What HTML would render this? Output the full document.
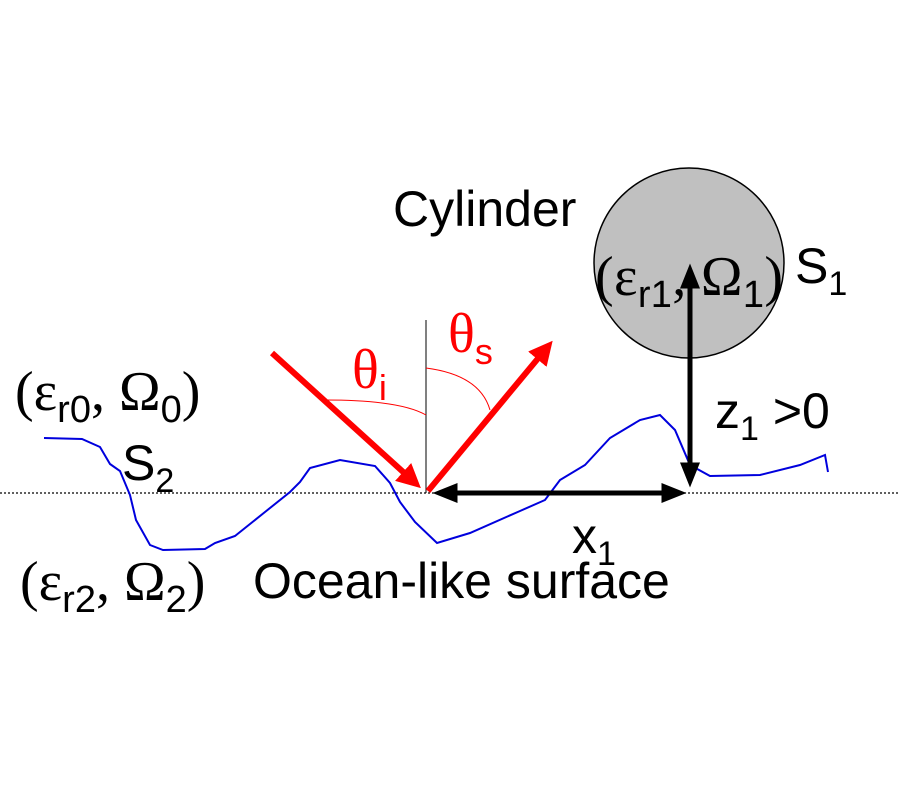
<!DOCTYPE html>
<html><head><meta charset="utf-8"><style>body{margin:0;background:#fff}svg{display:block}</style></head><body>
<svg width="900" height="800" viewBox="0 0 900 800" xmlns="http://www.w3.org/2000/svg">
<defs>
<marker id="ar" markerWidth="4" markerHeight="4" refX="2" refY="2" orient="auto" markerUnits="strokeWidth"><path d="M0,0L4,2L0,4z" fill="red"/></marker>
<marker id="ak" markerWidth="5" markerHeight="4" refX="3.5" refY="2" orient="auto-start-reverse" markerUnits="strokeWidth"><path d="M0,0L5,2L0,4z" fill="#000"/></marker>
</defs>
<line x1="0" y1="493" x2="900" y2="493" stroke="#000" stroke-width="1.2" stroke-dasharray="2,2"/>
<circle cx="689" cy="263" r="95" fill="#c0c0c0" stroke="#000" stroke-width="1.5"/>
<polyline fill="none" stroke="#0000dd" stroke-width="2" points="44,438 82,439 100,447 110,464 120,471 130,495 136,520 150,545 163,550 205,549 215,543 235,536 265,512 290,492 300,482 310,468 340,460 375,466 390,483 400,502 415,522 437,543 470,533 520,511 545,500 560,480 585,465 610,438 640,420 660,415 675,430 690,465 710,476 760,475 800,465 825,455 828,472"/>
<line x1="426" y1="320" x2="426" y2="493" stroke="#000" stroke-width="1"/>
<path d="M325,400 Q400,400 426,415" fill="none" stroke="red" stroke-width="1"/>
<path d="M426,368 Q480,375 490,410" fill="none" stroke="red" stroke-width="1"/>
<line x1="272" y1="353" x2="412" y2="480" stroke="red" stroke-width="6" marker-end="url(#ar)"/>
<line x1="428" y1="491" x2="545" y2="350" stroke="red" stroke-width="6" marker-end="url(#ar)"/>
<line x1="440" y1="493" x2="679" y2="493" stroke="#000" stroke-width="5" marker-start="url(#ak)" marker-end="url(#ak)"/>
<line x1="690" y1="480" x2="690" y2="271" stroke="#000" stroke-width="5" marker-start="url(#ak)" marker-end="url(#ak)"/>
<g font-family="Liberation Sans, sans-serif" font-size="50" fill="#000">
<text x="393" y="226">Cylinder</text>
<text x="253" y="598">Ocean-like surface</text>
<text x="122" y="480">S<tspan font-size="34" dy="12">2</tspan></text>
<text x="795" y="283">S<tspan font-size="34" dy="12">1</tspan></text>
<text x="572" y="553">x<tspan font-size="34" dy="12">1</tspan></text>
<text x="715" y="428">z<tspan font-size="34" dy="12">1</tspan><tspan dy="-12"> &gt;0</tspan></text>
</g>
<g font-family="Liberation Serif, serif" font-size="56" fill="#000">
<text x="15" y="410">(ε<tspan font-family="Liberation Sans, sans-serif" font-size="38" dy="12">r0</tspan><tspan dy="-12">, Ω</tspan><tspan font-family="Liberation Sans, sans-serif" font-size="38" dy="12">0</tspan><tspan dy="-12">)</tspan></text>
<text x="20" y="600">(ε<tspan font-family="Liberation Sans, sans-serif" font-size="38" dy="12">r2</tspan><tspan dy="-12">, Ω</tspan><tspan font-family="Liberation Sans, sans-serif" font-size="38" dy="12">2</tspan><tspan dy="-12">)</tspan></text>
<text x="595" y="295" textLength="188">(ε<tspan font-family="Liberation Sans, sans-serif" font-size="38" dy="12">r1</tspan><tspan dy="-12">, Ω</tspan><tspan font-family="Liberation Sans, sans-serif" font-size="38" dy="12">1</tspan><tspan dy="-12">)</tspan></text>
<text x="352" y="388" fill="red">θ<tspan font-family="Liberation Sans, sans-serif" font-size="36" dy="12">i</tspan></text>
<text x="448" y="352" fill="red">θ<tspan font-family="Liberation Sans, sans-serif" font-size="36" dy="12">s</tspan></text>
</g>
</svg>
</body></html>
